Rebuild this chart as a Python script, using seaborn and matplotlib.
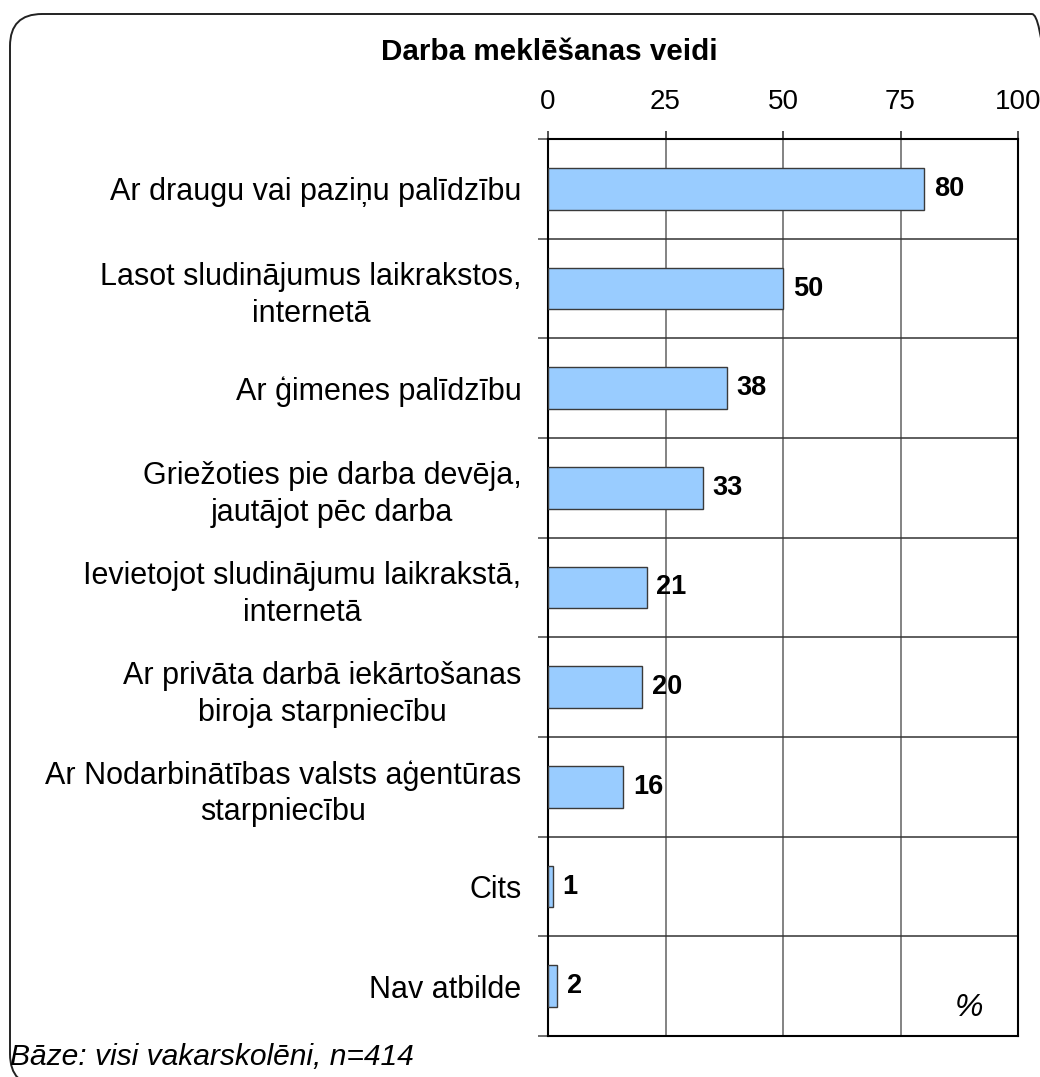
import matplotlib
matplotlib.use("Agg")
import matplotlib.pyplot as plt
import seaborn as sns
import pandas as pd
from matplotlib.patches import FancyBboxPatch
from matplotlib.transforms import IdentityTransform

categories = [
    "Ar draugu vai paziņu palīdzību",
    "Lasot sludinājumus laikrakstos,\ninternetā",
    "Ar ģimenes palīdzību",
    "Griežoties pie darba devēja,\njautājot pēc darba",
    "Ievietojot sludinājumu laikrakstā,\ninternetā",
    "Ar privāta darbā iekārtošanas\nbiroja starpniecību",
    "Ar Nodarbinātības valsts aģentūras\nstarpniecību",
    "Cits",
    "Nav atbilde",
]
values = [80, 50, 38, 33, 21, 20, 16, 1, 2]
x_ticks = [0, 25, 50, 75, 100]
title = "Darba meklēšanas veidi"
footnote = "Bāze: visi vakarskolēni, n=414"
unit_label = "%"

plt.rcParams['font.family'] = ['Liberation Sans', 'DejaVu Sans']

W, H = 1040, 1077
fig = plt.figure(figsize=(W / 100, H / 100), dpi=100)
fig.patch.set_facecolor('white')

# rounded outer frame (extends past the right and bottom edges)
frame = FancyBboxPatch((10, H - 1086), 1064 - 10, 1086 - 14,
                       boxstyle="round,pad=0,rounding_size=32",
                       transform=IdentityTransform(), fill=False,
                       edgecolor='#222222', linewidth=1.4, zorder=0)
fig.patches.append(frame)

ax = fig.add_axes([548 / W, 41 / H, 470 / W, 897 / H])
df = pd.DataFrame({"cat": categories, "val": values})
sns.barplot(data=df, x="val", y="cat", orient="h", color="#99ccff",
            saturation=1, edgecolor="#3a3a3a", linewidth=1.0, width=0.42,
            ax=ax, zorder=3)

ax.set_xlim(0, 100)
ax.set_ylim(len(categories) - 0.5, -0.5)
ax.set_xlabel("")
ax.set_ylabel("")

ax.xaxis.tick_top()
ax.set_xticks(x_ticks)
ax.set_xticklabels([str(t) for t in x_ticks])
ax.tick_params(axis='x', which='major', length=6, width=1.2, color='#333333',
               labelsize=20, pad=11, top=True, bottom=False)

ax.set_yticks(range(len(categories)))
ax.set_yticklabels(categories, fontsize=22, multialignment='center', linespacing=1.3)
ax.tick_params(axis='y', which='major', length=0, pad=19)
ax.set_yticks([i + 0.5 for i in range(-1, len(categories))], minor=True)
ax.tick_params(axis='y', which='minor', length=7.5, width=1.2, color='#555555')

ax.grid(axis='x', which='major', color='#7a7a7a', linewidth=1.3, zorder=1)
ax.grid(axis='y', which='minor', color='#333333', linewidth=1.1, zorder=1)
ax.grid(axis='y', which='major', visible=False)
ax.set_axisbelow(True)

for s in ax.spines.values():
    s.set_color('black')
    s.set_linewidth(1.5)
    s.set_visible(True)

ax.bar_label(ax.containers[0], labels=[str(v) for v in values], padding=7,
             fontweight='bold', fontsize=19.5, color='black')

ax.text(0.895, 0.031, unit_label, transform=ax.transAxes, style='italic',
        fontsize=23, ha='center', va='center')

fig.text(549 / W, 1 - 52 / H, title, ha='center', va='center',
         fontsize=21.3, fontweight='bold')
fig.text(10 / W, 1 - 1057 / H, footnote, ha='left', va='center',
         fontsize=21.6, style='italic')

fig.savefig("out.png", dpi=100)
